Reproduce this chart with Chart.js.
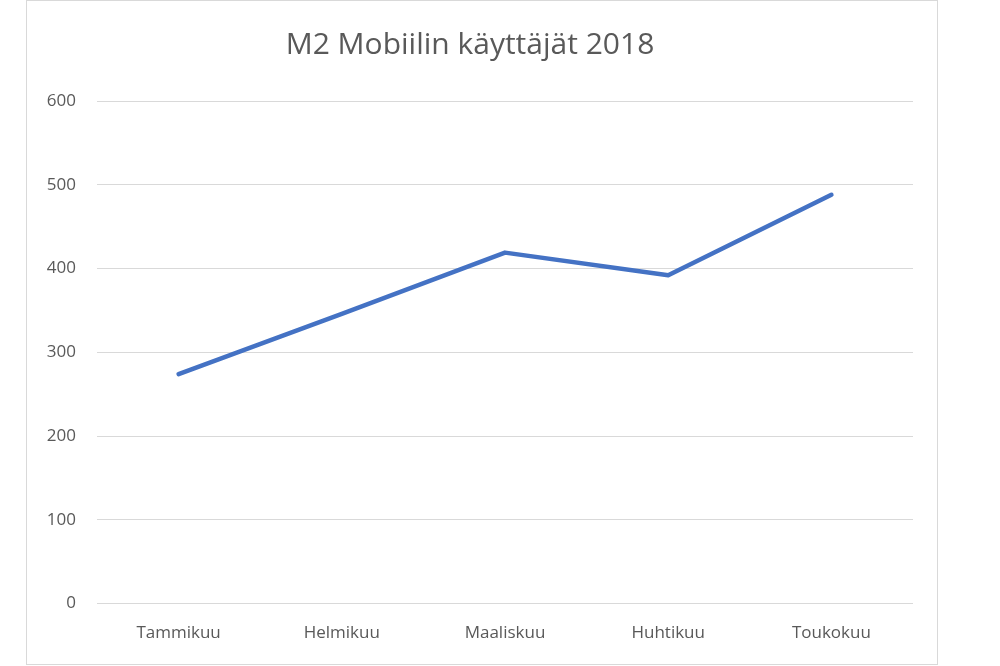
<!DOCTYPE html>
<html>
<head>
<meta charset="utf-8">
<script src="https://cdn.jsdelivr.net/npm/chart.js@4/dist/chart.umd.min.js"></script>
<style>
    body { margin: 0; background: #fff; }
    #laatikko {
        position: absolute;
        left: 26px;
        top: 0;
        width: 910px;
        height: 663px;
        border: 1px solid #d9d9d9;
    }
</style>
</head>
<body>
<div id="laatikko"><canvas id="kaavio" width="910" height="663"></canvas></div>
<script>
const kuukaudet = ["Tammikuu", "Helmikuu", "Maaliskuu", "Huhtikuu", "Toukokuu"]
const kayttajat = [274, 346, 419, 392, 488]
const yMin = 0
const yMax = 600
const yAskel = 100

const ctx = document.getElementById("kaavio")

new Chart(ctx, {
    type: "line",
    data: {
        labels: kuukaudet,
        datasets: [{
            label: "Käyttäjät",
            data: kayttajat,
            borderColor: "#4472C4",
            borderWidth: 4.5,
            pointRadius: 0,
            tension: 0,
            borderCapStyle: "round",
            borderJoinStyle: "round"
        }]
    },
    options: {
        responsive: false,
        animation: false,
        layout: {
            padding: { left: 0, right: 24, top: 0, bottom: 2 }
        },
        plugins: {
            legend: { display: false },
            tooltip: { enabled: false },
            title: {
                display: true,
                text: "M2 Mobiilin käyttäjät 2018",
                color: "#595959",
                font: { family: "Open Sans", size: 30, weight: "normal", lineHeight: 1.2 },
                padding: { top: 26, bottom: 38 }
            }
        },
        scales: {
            x: {
                offset: true,
                grid: { display: false, drawTicks: false },
                border: { display: false },
                ticks: {
                    color: "#595959",
                    font: { family: "Open Sans", size: 17 },
                    padding: 19
                }
            },
            y: {
                min: yMin,
                max: yMax,
                afterFit: (scale) => { scale.width = 70 },
                grid: { color: "#d9d9d9", lineWidth: 1, drawTicks: false },
                border: { display: false },
                ticks: {
                    stepSize: yAskel,
                    color: "#595959",
                    font: { family: "Open Sans", size: 17 },
                    padding: 21
                }
            }
        }
    }
})
</script>
</body>
</html>
